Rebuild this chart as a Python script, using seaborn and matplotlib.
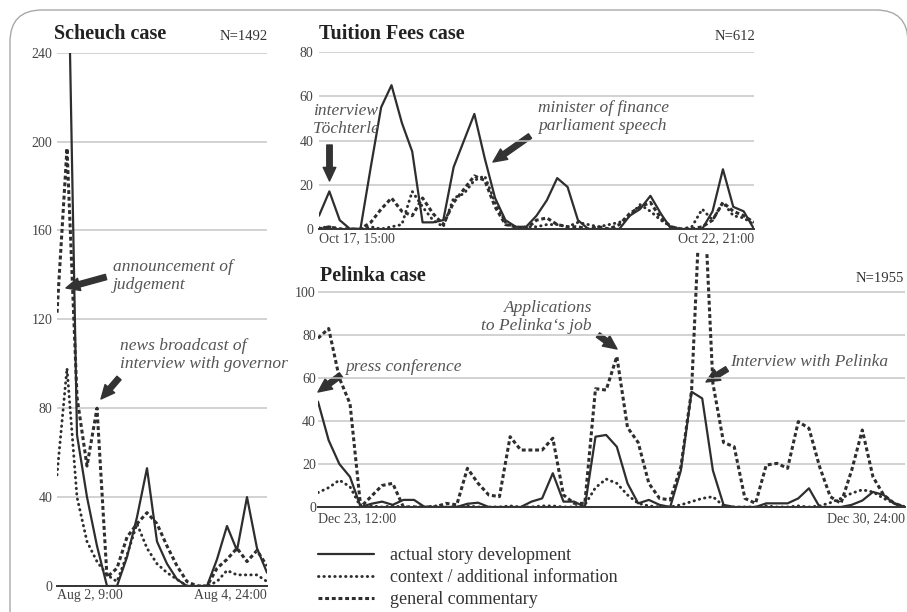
import matplotlib
matplotlib.use("Agg")
import matplotlib.pyplot as plt
from matplotlib.lines import Line2D
from matplotlib.patches import FancyBboxPatch
from matplotlib.transforms import IdentityTransform
import seaborn as sns
import pandas as pd

# Scheuch case, Aug 2 9:00 .. Aug 4 24:00, 3-hour steps
scheuch_story = [280, 314, 68, 40, 18, 0, 0, 13, 31, 53, 20, 10, 3, 0, 0, 0, 12, 27, 16, 40, 17, 6]
scheuch_context = [50, 98, 40, 20, 11, 5, 2, 14, 28, 17, 10, 6, 3, 0, 0, 0, 2, 7, 5, 5, 5, 2]
scheuch_comment = [123, 197, 85, 54, 80, 4, 8, 22, 28, 33, 28, 18, 9, 2, 0, 0, 8, 12, 17, 11, 16, 9]

# Tuition Fees case, Oct 17 15:00 .. Oct 22 21:00
tuition_story = [6, 17, 4, 0, 0, 28, 55, 65, 48, 35, 3, 3, 4, 28, 40, 52, 32, 14, 4, 1, 1, 6,
                 13, 23, 19, 4, 0, 0, 0, 0, 6, 9, 15, 7, 0, 0, 0, 0, 8, 27, 10, 8, 0]
tuition_context = [0.5, 1, 0, 0, 0, 1, 0, 1, 2, 17, 10, 4, 1, 14, 16, 22, 24, 12, 3, 0, 1, 1,
                   2, 2, 1, 3, 2, 1, 2, 3, 6, 11, 8, 4, 1, 0, 1, 9, 4, 12, 6, 5, 2]
tuition_comment = [0, 1, 0, 0, 0, 3, 9, 14, 8, 6, 14, 7, 2, 12, 18, 24, 22, 10, 2, 1, 0, 4,
                   5, 2, 1, 1, 0, 1, 0, 2, 7, 10, 12, 5, 1, 0, 0, 1, 4, 12, 8, 6, 3]

# Pelinka case, Dec 23 12:00 .. Dec 30 24:00
pelinka_story = [49, 31, 20, 14, 0, 1.5, 2.5, 1, 3.3, 3.3, 0, 0, 0, 0, 1.5, 2, 0, 0, 0, 0,
                 2.5, 4, 15.7, 2.5, 2.5, 0, 32.7, 33.5, 28, 11, 1.7, 3.3, 1, 0, 17, 53.6, 50.5,
                 17, 1, 0, 0, 0, 1.7, 1.7, 1.7, 4, 8.7, 0, 0, 0, 1, 3, 7, 5.6, 1.5, 0]
pelinka_context = [6.7, 9, 12.5, 9.4, 0, 0.5, 0, 0.5, 0, 0, 0, 0.5, 0, 0, 0.5, 0, 0, 0, 0.5, 0,
                   0, 0.5, 0.5, 0, 0, 1, 9, 13, 11, 5.6, 1.7, 0.5, 0, 0, 1, 2.5, 4, 4.8, 0.5, 0,
                   0, 0, 0.5, 0, 0, 0.5, 0, 0.5, 2, 4, 6.4, 8, 7, 4, 1.7, 0]
pelinka_comment = [78.5, 83, 60, 48, 0, 5, 10, 11, 0, 0, 0, 0, 1.7, 1, 18, 11, 5.6, 4.8, 32.7,
                   26.5, 26.5, 26.5, 32, 5.6, 1.7, 1.7, 55, 54.4, 70, 37, 30, 11, 4, 3.3, 18.7,
                   54, 165, 57.5, 30, 28, 4, 1.7, 19.5, 20.3, 18, 39.7, 36.6, 18.7, 4.8, 1.7, 17,
                   35.8, 14, 5.6, 1.7, 0]

legend_labels = ["actual story development", "context / additional information", "general commentary"]

W, H = 907, 612
INK = "#2e2e2e"
sns.set_style("white")
plt.rcParams["font.family"] = ["Liberation Serif", "DejaVu Serif"]
plt.rcParams["lines.scale_dashes"] = False

styles = {
    "story": dict(color=INK, lw=1.6, linestyle="-"),
    "context": dict(color=INK, lw=2.1, linestyle=(0, (0.3, 3.6)), dash_capstyle="round"),
    "comment": dict(color=INK, lw=2.2, linestyle=(0, (2.8, 2.0))),
}

fig = plt.figure(figsize=(W / 100, H / 100), dpi=100)


def box(l, t, r, b):
    return [l / W, 1 - b / H, (r - l) / W, (b - t) / H]


def px(x, y):
    return (x / W, 1 - y / H)


def draw(ax, story, context, comment, ymax, yticks, labels, ypad, xpad):
    n = len(story)
    df = pd.DataFrame({"step": range(n), "story": story, "context": context, "comment": comment})
    for key in ["context", "comment", "story"]:
        sns.lineplot(data=df, x="step", y=key, ax=ax, **styles[key])
    ax.set_xlim(0, n - 1)
    ax.set_ylim(0, ymax)
    ax.set_yticks(yticks)
    ax.set_xticks([0, n - 1], labels)
    ax.xaxis.get_majorticklabels()[0].set_ha("left")
    ax.xaxis.get_majorticklabels()[1].set_ha("right")
    ax.set_xlabel("")
    ax.set_ylabel("")
    ax.grid(axis="y", color="#c6c6c6", lw=1.1)
    ax.grid(axis="x", visible=False)
    ax.set_axisbelow(True)
    for s in ["top", "left", "right"]:
        ax.spines[s].set_visible(False)
    ax.spines["bottom"].set_color("#333333")
    ax.spines["bottom"].set_linewidth(1.4)
    ax.tick_params(axis="y", length=0, pad=ypad, labelsize=10, colors="#444444")
    ax.tick_params(axis="x", length=0, pad=xpad, labelsize=10, colors="#444444")
    ax.patch.set_alpha(0)


ax1 = fig.add_axes(box(57, 52.7, 267, 586))
draw(ax1, scheuch_story, scheuch_context, scheuch_comment, 240, range(0, 241, 40),
     ["Aug 2, 9:00", "Aug 4, 24:00"], 3.5, 2.5)

ax2 = fig.add_axes(box(319, 52, 754, 229))
draw(ax2, tuition_story, tuition_context, tuition_comment, 80, range(0, 81, 20),
     ["Oct 17, 15:00", "Oct 22, 21:00"], 4, 2.5)

ax3 = fig.add_axes(box(318, 252, 905, 507))
draw(ax3, pelinka_story, pelinka_context, pelinka_comment, 118.6, range(0, 101, 20),
     ["Dec 23, 12:00", "Dec 30, 24:00"], 1.5, 4)

# titles
title_kw = dict(fontsize=14.5, fontweight="bold", color="#222222", va="center")
fig.text(*px(54, 34), "Scheuch case", ha="left", **title_kw)
fig.text(*px(319, 34), "Tuition Fees case", ha="left", **title_kw)
fig.text(*px(320, 276), "Pelinka case", ha="left", **title_kw)
n_kw = dict(fontsize=10.5, color="#333333", va="center", ha="right")
fig.text(*px(268, 37), "N=1492", **n_kw)
fig.text(*px(755, 36), "N=612", **n_kw)
fig.text(*px(904, 279), "N=1955", **n_kw)

# annotations
note_kw = dict(fontsize=12.5, style="italic", color="#555555", va="center", linespacing=1.15)
arrow = dict(arrowstyle="simple,head_length=0.7,head_width=0.65,tail_width=0.28",
             color="#333333", shrinkA=0, shrinkB=0, mutation_scale=14)
notes = [
    ("announcement of\njudgement", (113, 276), "left", (106, 277), (66, 288)),
    ("news broadcast of\ninterview with governor", (120, 355), "left", (119, 378), (101, 399)),
    ("interview\nTöchterle", (313, 120), "left", (329.5, 145), (329.5, 181)),
    ("minister of finance\nparliament speech", (538, 117), "left", (530, 136), (493, 162)),
    ("press conference", (345, 367), "left", (341, 375), (318, 392)),
    ("Applications\nto Pelinka‘s job", (592, 317), "right", (598, 335), (617, 349)),
    ("Interview with Pelinka", (730, 362), "left", (727, 369), (706, 382)),
]
for text, (tx, ty), ha, tail, tip in notes:
    fig.text(*px(tx, ty), text, ha=ha, multialignment=ha, **note_kw)
    ax1.annotate("", xy=px(*tip), xytext=px(*tail), xycoords="figure fraction",
                 textcoords="figure fraction", arrowprops=arrow, annotation_clip=False)

# legend
handles = [Line2D([], [], **styles[k]) for k in ["story", "context", "comment"]]
fig.legend(handles, legend_labels, loc="upper left", bbox_to_anchor=px(318, 547),
           frameon=False, fontsize=13, handlelength=3.1, handletextpad=0.9,
           labelspacing=0.28, borderpad=0, borderaxespad=0, labelcolor="#333333")

# rounded frame
frame = FancyBboxPatch((10, -40), 898, H - 10 + 40, boxstyle="round,pad=0,rounding_size=32",
                       transform=IdentityTransform(), fill=False, edgecolor="#a8a8a8", lw=1.0)
fig.add_artist(frame)

fig.savefig("out.png", dpi=100)
